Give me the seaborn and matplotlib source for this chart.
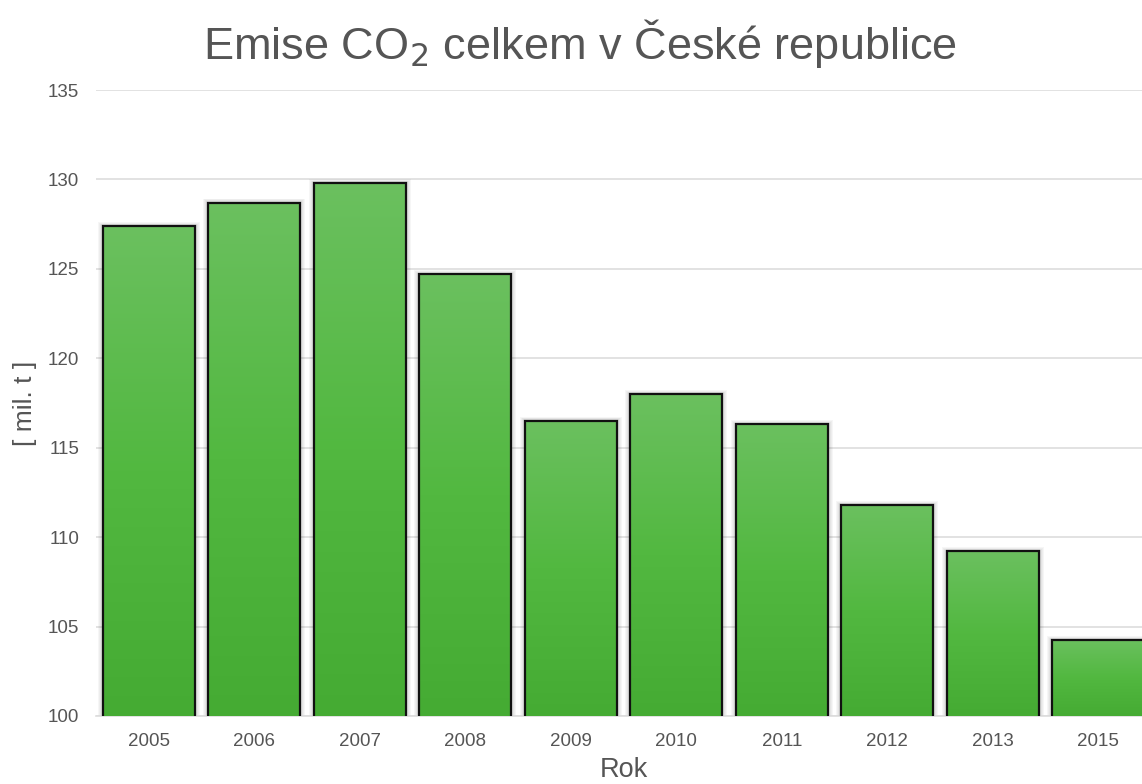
import numpy as np
import pandas as pd
import matplotlib
matplotlib.use("Agg")
import matplotlib.pyplot as plt
import seaborn as sns
from matplotlib.patches import Rectangle
from matplotlib.colors import LinearSegmentedColormap

years = ["2005", "2006", "2007", "2008", "2009", "2010", "2011", "2012", "2013", "2015"]
emissions = [127.4, 128.7, 129.8, 124.7, 116.5, 118.0, 116.3, 111.8, 109.2, 104.25]
yticks = [100, 105, 110, 115, 120, 125, 130, 135]

df = pd.DataFrame({"Rok": years, "Emise": emissions})

sns.set_style("white")
plt.rcParams['font.family'] = ['Liberation Sans', 'DejaVu Sans']

fig = plt.figure(figsize=(11.42, 7.84), dpi=100)
ax = fig.add_axes([96 / 1142, 1 - 716 / 784, (1151 - 96) / 1142, (716 - 90) / 784])

sns.barplot(data=df, x="Rok", y="Emise", color="#52b540", width=0.87,
            edgecolor="#111111", linewidth=1.6, ax=ax, zorder=3)

ax.set_ylim(100, 135)
ax.set_xlim(-0.5, len(years) - 0.5)

cmap = LinearSegmentedColormap.from_list("g", ["#45ab33", "#52b840", "#6bc05f"])
grad = np.linspace(0, 1, 256).reshape(-1, 1)
px_x = 1 / 105.5
px_y = 35 / 626
for p in list(ax.patches):
    x0, w, h = p.get_x(), p.get_width(), p.get_height()
    y0 = 100
    top = p.get_y() + h
    # soft shadow
    for k in range(1, 6):
        sh = Rectangle((x0 - k * px_x, y0), w + 2 * k * px_x, top - y0 + k * px_y * 0.8,
                       facecolor="#000000", edgecolor="none", alpha=0.035, zorder=2)
        ax.add_patch(sh)
    im = ax.imshow(grad, extent=[x0, x0 + w, y0, top], origin="lower", cmap=cmap,
                   aspect="auto", zorder=3.5, interpolation="bilinear")
    im.set_clip_path(p)
    p.set_facecolor("none")
    p.set_zorder(4)

ax.set_ylim(100, 135)
ax.set_xlim(-0.5, len(years) - 0.5)
ax.set_yticks(yticks)
ax.yaxis.grid(True, color="#dddddd", linewidth=1.2, zorder=0)
ax.xaxis.grid(False)
ax.set_axisbelow(True)
for s in ["top", "right", "left"]:
    ax.spines[s].set_visible(False)
ax.spines["bottom"].set_color("#dddddd")
ax.spines["bottom"].set_linewidth(1.2)
ax.tick_params(axis="both", length=0, colors="#555555", labelsize=13.5)
ax.tick_params(axis="y", pad=12)
ax.tick_params(axis="x", pad=12)

ax.set_xlabel("Rok", fontsize=19.5, color="#555555", labelpad=5)
ax.set_ylabel("[ mil. t ]", fontsize=19, color="#555555", labelpad=8)

fig.text(580 / 1142, 1 - 44 / 784, "Emise CO$_2$ celkem v České republice",
         ha="center", va="center", fontsize=32.5, color="#555555")

fig.savefig("out.png", dpi=100)
